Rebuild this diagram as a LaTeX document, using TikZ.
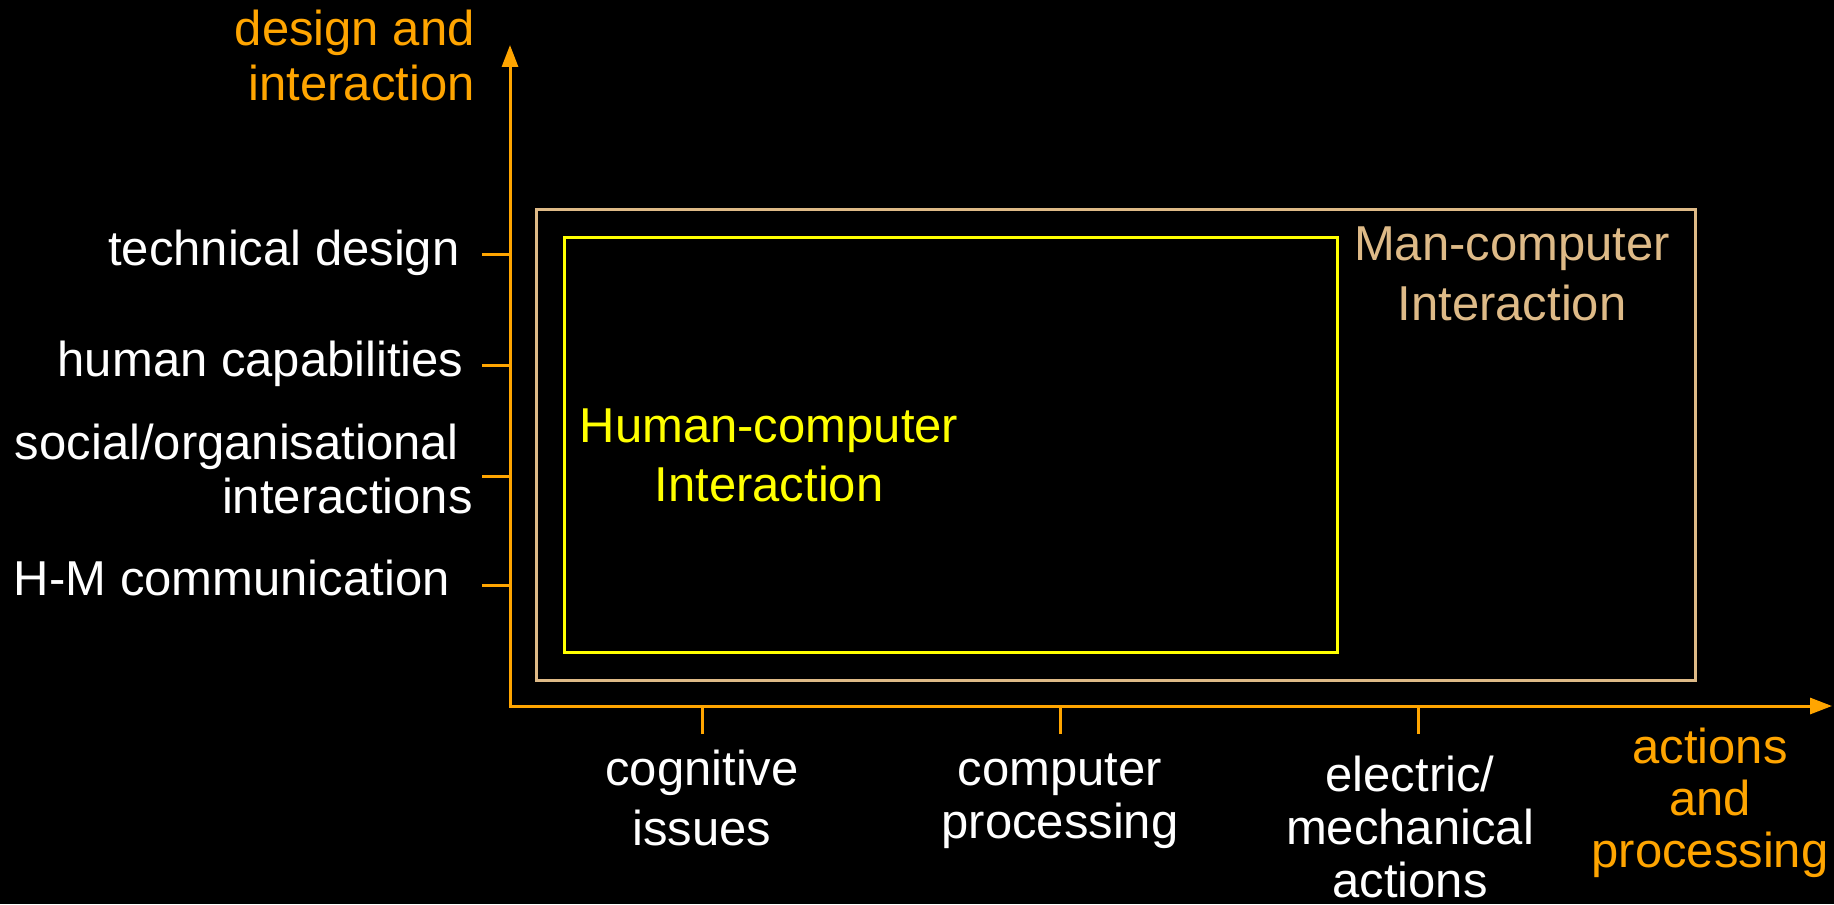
\documentclass[tikz,border=0pt]{standalone}
\usepackage{fontspec}
\setmainfont{Liberation Sans}
\usetikzlibrary{arrows.meta}

\definecolor{axisorange}{RGB}{255,165,0}
\definecolor{mantan}{RGB}{222,186,135}
\definecolor{hciyellow}{RGB}{255,255,0}
\newcommand{\hcifont}[1]{\fontsize{24.5}{#1}\selectfont}

\begin{document}
\begin{tikzpicture}[x=0.5pt, y=-0.5pt,
    axis/.style={draw=axisorange, line width=1.5pt},
    axistip/.style={{Triangle[width=8pt, length=11pt]}-{Triangle[width=8pt, length=11pt]}},
    ylab/.style={text=white, inner sep=0pt, align=right, font=\hcifont{27pt}},
    xlab/.style={text=white, inner sep=0pt, align=center, font=\hcifont{26.5pt}},
    boxlab/.style={inner sep=0pt, align=center, font=\hcifont{30pt}}]
\path[use as bounding box, fill=black] (0,0) rectangle (1834,904);

% axes
\coordinate (origin) at (510,706);
\coordinate (ytop) at (510,45);
\coordinate (xend) at (1832,706);
\draw[axis, axistip] (ytop) -- (origin) -- (xend);
\node[text=axisorange, inner sep=0pt, align=right, font=\hcifont{27.5pt}, anchor=north east] (ytitle) at (475,10) {design and\\interaction};
\node[text=axisorange, inner sep=0pt, align=center, font=\hcifont{26pt}, anchor=north] (xtitle) at (1710,728) {actions\\and\\processing};

% ticks
\foreach \n/\y in {td/254, hc/365, so/476, hm/585}
  \draw[axis] (482,\y) coordinate (tick-\n) -- (510,\y);
\foreach \n/\x in {cog/702, cp/1060, em/1418}
  \draw[axis] (\x,706) -- (\x,734) coordinate (tick-\n);

% labels on the y axis
\node[ylab, anchor=base east] (td) at (460,265) {technical design};
\node[ylab, anchor=base east] (hc) at (464,376) {human capabilities};
\node[ylab, anchor=north east] (so) at (473,424) {social/organisational\hspace*{.28em}\\interactions};
\node[ylab, anchor=base east] (hm) at (450,595) {H-M communication};

% labels on the x axis
\node[xlab, font=\hcifont{30pt}, anchor=north] (cog) at (702,750) {cognitive\\issues};
\node[xlab, anchor=north] (cp) at (1060,753) {computer\\processing};
\node[xlab, anchor=north] (em) at (1410,756) {electric/\\mechanical\\actions};

% the two fields
\draw[draw=mantan, line width=1.5pt] (536,209) rectangle (1695,680);
\draw[draw=hciyellow, line width=1.5pt] (564,237) rectangle (1337,652);
\node[boxlab, text=mantan, anchor=north] (mci) at (1512,226) {Man-computer\\Interaction};
\node[boxlab, text=hciyellow, font=\hcifont{29.5pt}, anchor=north] (hci) at (769,408) {Human-computer\\Interaction};
\end{tikzpicture}
\end{document}
